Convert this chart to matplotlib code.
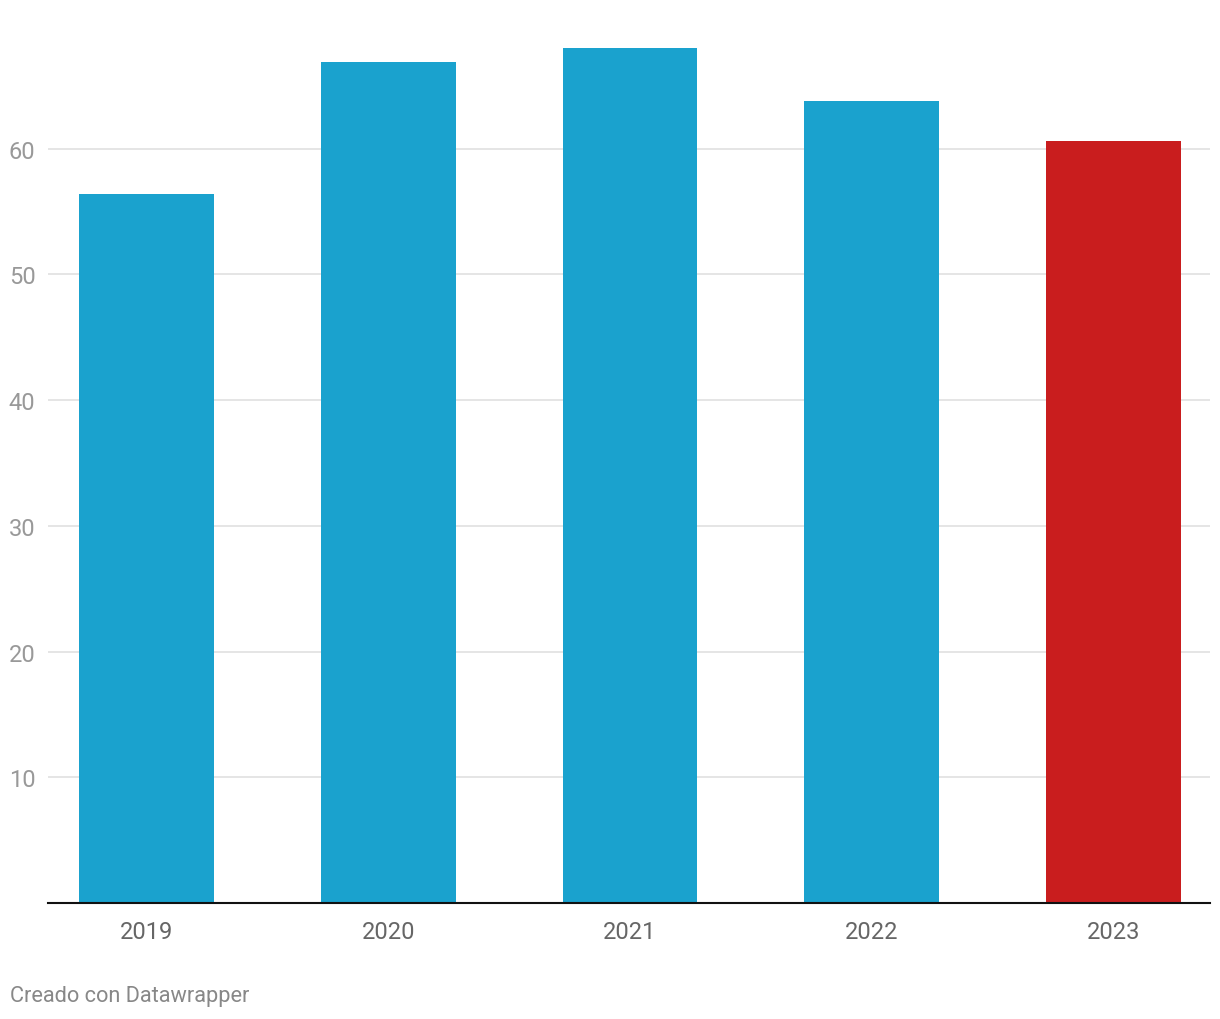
import matplotlib.pyplot as plt

# Data
years = ["2019", "2020", "2021", "2022", "2023"]
values = [56.4, 66.9, 68.0, 63.8, 60.6]
colors = ["#1aa2ce", "#1aa2ce", "#1aa2ce", "#1aa2ce", "#c91d1e"]
yticks = [10, 20, 30, 40, 50, 60]

plt.rcParams['font.family'] = ['Roboto', 'DejaVu Sans']

fig = plt.figure(figsize=(12.2, 10.2), dpi=100)
ax = fig.add_axes([48 / 1220, 116 / 1020, 1162 / 1220, 855 / 1020])

x = list(range(len(years)))
ax.bar(x, values, width=0.558, color=colors, zorder=2)

ax.set_xlim(-0.407, 4.399)
ax.set_ylim(0, 68.0)

# grid lines
ax.set_yticks(yticks)
ax.yaxis.grid(True, color="#e3e3e3", linewidth=1.3, zorder=0)
ax.set_axisbelow(True)
ax.tick_params(axis='y', length=0, pad=9, labelsize=17, labelcolor="#999999")

ax.set_xticks(x)
ax.set_xticklabels(years)
ax.tick_params(axis='x', length=0, pad=12, labelsize=17, labelcolor="#666666")

for s in ["top", "right", "left"]:
    ax.spines[s].set_visible(False)
ax.spines["bottom"].set_color("#111111")
ax.spines["bottom"].set_linewidth(1.5)
ax.spines["bottom"].set_zorder(3)

fig.text(10 / 1220, 1 - 997 / 1020, "Creado con Datawrapper", fontsize=15.7,
         color="#888888", ha="left", va="center")

plt.savefig("out.png", dpi=100)
